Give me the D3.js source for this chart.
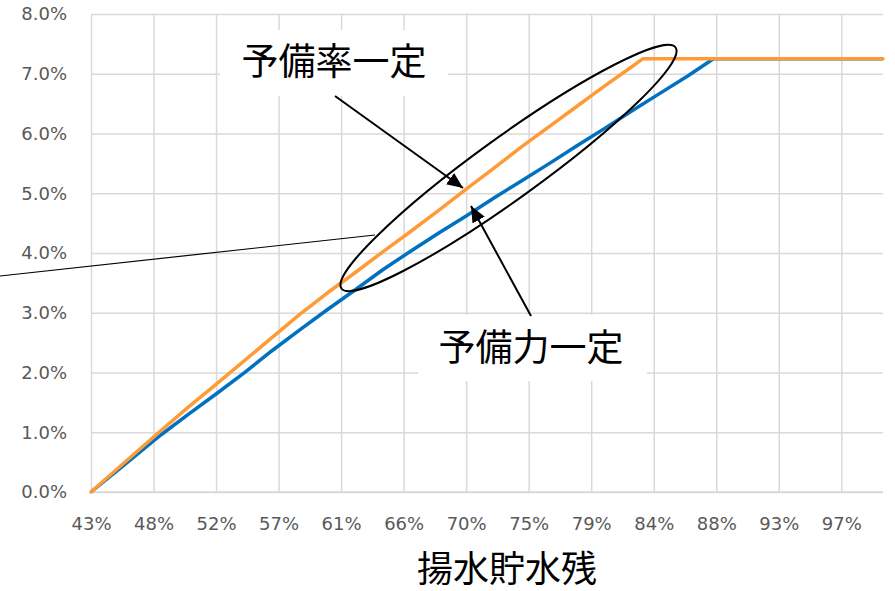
<!DOCTYPE html>
<html>
<head>
<meta charset="utf-8">
<script src="https://cdn.jsdelivr.net/npm/d3@7"></script>
<style>
  body { margin: 0; background: #fff; }
  svg { display: block; }
</style>
</head>
<body>
<div id="chart"></div>
<script>
// x = 揚水貯水残 (%), y = rate (%)
var xTickValues = [43, 47.5, 52, 56.5, 61, 65.5, 70, 74.5, 79, 83.5, 88, 92.5, 97]
var xTickLabels = ["43%", "48%", "52%", "57%", "61%", "66%", "70%", "75%", "79%", "84%", "88%", "93%", "97%"]
var yTickValues = [0, 1, 2, 3, 4, 5, 6, 7, 8]

// 予備率一定 (orange)
var rateX = [43, 45, 48, 50, 52, 54, 56, 58, 60, 62, 64, 66, 68, 70, 72, 74, 76, 78, 80, 82, 82.7, 100]
var rateY = [0, 0.41, 1.02, 1.42, 1.80, 2.19, 2.58, 2.97, 3.33, 3.67, 4.02, 4.36, 4.71, 5.07, 5.42, 5.78, 6.12, 6.46, 6.80, 7.13, 7.25, 7.25]

// 予備力一定 (blue)
var powerX = [43, 45, 48, 50, 52, 54, 56, 58, 60, 62, 64, 66, 68, 70, 72, 74, 76, 78, 80, 82, 84, 86, 87.8, 100]
var powerY = [0, 0.38, 0.95, 1.30, 1.64, 1.99, 2.36, 2.71, 3.05, 3.38, 3.72, 4.03, 4.33, 4.62, 4.92, 5.21, 5.50, 5.80, 6.09, 6.39, 6.68, 6.97, 7.25, 7.25]

var showChart = function () {
  var W = 895, H = 591
  var plotL = 91, plotR = 883, plotT = 14, plotB = 492

  var svg = d3.select("#chart").append("svg")
    .attr("width", W)
    .attr("height", H)

  var x = d3.scaleLinear().domain([43, 100]).range([plotL, plotR])
  var y = d3.scaleLinear().domain([0, 8]).range([plotB, plotT])

  var tickFont = "DejaVu Sans, Verdana, sans-serif"

  // horizontal gridlines + y labels
  var yAxis = svg.append("g")
    .attr("transform", "translate(" + plotL + ",0)")
    .call(d3.axisLeft(y)
      .tickValues(yTickValues)
      .tickSize(-(plotR - plotL))
      .tickPadding(24)
      .tickFormat(d => d.toFixed(1) + "%"))
  yAxis.select(".domain").remove()
  yAxis.selectAll(".tick line").attr("stroke", "#d9d9d9").attr("stroke-width", 1.5)
  yAxis.selectAll(".tick text")
    .attr("fill", "#595959")
    .style("font-family", tickFont)
    .style("font-size", "18px")

  // vertical gridlines + x labels
  var xAxis = svg.append("g")
    .attr("transform", "translate(0," + plotB + ")")
    .call(d3.axisBottom(x)
      .tickValues(xTickValues)
      .tickSize(-(plotB - plotT))
      .tickFormat((d, i) => xTickLabels[i]))
  xAxis.select(".domain").remove()
  xAxis.selectAll(".tick line").attr("stroke", "#d9d9d9").attr("stroke-width", 1.5)
  xAxis.selectAll(".tick text")
    .attr("y", 38)
    .attr("dy", 0)
    .attr("fill", "#595959")
    .style("font-family", tickFont)
    .style("font-size", "18px")

  // bottom axis line
  svg.append("line")
    .attr("x1", plotL).attr("x2", plotR)
    .attr("y1", plotB).attr("y2", plotB)
    .attr("stroke", "#d9d9d9")
    .attr("stroke-width", 1.5)

  var line = d3.line()
    .x(d => x(d[0]))
    .y(d => y(d[1]))

  svg.append("path")
    .datum(d3.zip(powerX, powerY))
    .attr("d", line)
    .attr("fill", "none")
    .attr("stroke", "#0070c0")
    .attr("stroke-width", 3.5)
    .attr("stroke-linejoin", "round")

  svg.append("path")
    .datum(d3.zip(rateX, rateY))
    .attr("d", line)
    .attr("fill", "none")
    .attr("stroke", "#ff9b37")
    .attr("stroke-width", 3.5)
    .attr("stroke-linejoin", "round")
    .attr("stroke-linecap", "round")

  /* annotations */

  // ellipse round the gap between the lines
  svg.append("ellipse")
    .attr("cx", 0).attr("cy", 0)
    .attr("rx", 206).attr("ry", 31)
    .attr("transform", "translate(508.5,168) rotate(-35.8)")
    .attr("fill", "none")
    .attr("stroke", "#000")
    .attr("stroke-width", 2)

  // leader line coming in from the left
  svg.append("line")
    .attr("x1", 0).attr("y1", 276)
    .attr("x2", 375).attr("y2", 235)
    .attr("stroke", "#000")
    .attr("stroke-width", 1.2)

  svg.append("defs").append("marker")
    .attr("id", "head")
    .attr("markerUnits", "userSpaceOnUse")
    .attr("viewBox", "0 0 16 14")
    .attr("refX", 16).attr("refY", 7)
    .attr("markerWidth", 16).attr("markerHeight", 14)
    .attr("orient", "auto")
    .append("path")
    .attr("d", "M0,0L16,7L0,14Z")
    .attr("fill", "#000")

  var labels = [
    { text: "予備率一定", bx: 220, by: 30, bw: 228, bh: 66, cx: 334, cy: 59,
      ax1: 335, ay1: 96, ax2: 463, ay2: 188 },
    { text: "予備力一定", bx: 418, by: 315, bw: 229, bh: 66, cx: 531, cy: 345,
      ax1: 531, ay1: 316, ax2: 471, ay2: 206 }
  ]

  labels.forEach(function (l) {
    svg.append("rect")
      .attr("x", l.bx).attr("y", l.by)
      .attr("width", l.bw).attr("height", l.bh)
      .attr("fill", "#fff")
    svg.append("text")
      .attr("x", l.cx).attr("y", l.cy)
      .attr("text-anchor", "middle")
      .attr("dominant-baseline", "central")
      .style("font-family", "Noto Sans CJK JP, sans-serif")
      .style("font-size", "37px")
      .attr("fill", "#000")
      .text(l.text)
    svg.append("line")
      .attr("x1", l.ax1).attr("y1", l.ay1)
      .attr("x2", l.ax2).attr("y2", l.ay2)
      .attr("stroke", "#000")
      .attr("stroke-width", 2)
      .attr("marker-end", "url(#head)")
  })

  // x axis title
  svg.append("text")
    .attr("x", 507).attr("y", 566)
    .attr("text-anchor", "middle")
    .attr("dominant-baseline", "central")
    .style("font-family", "Noto Sans CJK JP, sans-serif")
    .style("font-size", "36px")
    .attr("fill", "#000")
    .text("揚水貯水残")
}

showChart()
</script>
</body>
</html>
